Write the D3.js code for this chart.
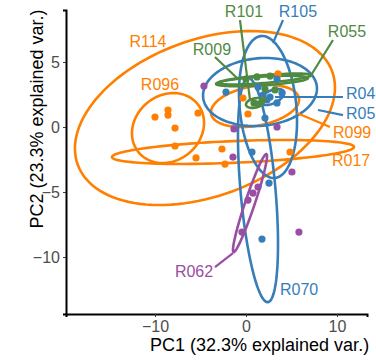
<!DOCTYPE html>
<html>
<head>
<meta charset="utf-8">
<script src="https://cdn.jsdelivr.net/npm/d3@7"></script>
<style>
  body { margin: 0; background: #fff; }
  svg { font-family: "Liberation Sans", Arial, sans-serif; display: block; }
</style>
</head>
<body>
<figure id="pca" style="margin:0"></figure>
<script>
// groups and colours
const groups = ["orange", "blue", "green", "purple"];
const groupColors = ["#FF7F00", "#377EB8", "#4F8A42", "#984EA3"];

// sample scores (PC1, PC2) per group
const orangePC1 = [-10.0, -8.57, -8.57, -7.8, -5.27, -7.8, -5.49, -0.33, 0.22, -2.64, -2.31, 3.52, 4.84];
const orangePC2 = [0.77, 1.31, 0.92, -0.08, 1.08, -1.46, -2.38, 2.23, 1.0, -1.69, -2.85, 4.08, -1.92];
const bluePC1 = [3.41, -2.2, 1.32, 3.96, 2.64, 2.31, 3.41, 1.87, 2.09, 0.66, 2.53, 1.76];
const bluePC2 = [3.69, 2.69, 3.08, 2.62, 2.31, 2.08, 1.85, 2.46, 0.69, -1.92, -4.31, -8.62];
const greenPC1 = [1.21, 2.09, 3.19, 0.88, 1.32, 1.87, 0.0, 2.64];
const greenPC2 = [3.85, 2.92, 2.85, 1.85, 1.77, 2.08, 3.69, 3.92];
const purplePC1 = [-4.62, -1.32, 3.41, -1.43, 5.05, 1.32, 0.77, 0.22, -0.44, 5.82];
const purplePC2 = [3.15, -0.15, 0.0, -2.31, -3.46, -4.62, -5.08, -5.62, -8.08, -8.08];

// ellipses: centre, half-extent on each axis, correlation
const ellNames = ["R114", "R096", "R099", "R017", "R105", "R070", "R05", "R04", "R009", "R055", "R101", "R062"];
const ellGroup = [0, 0, 0, 0, 1, 1, 1, 1, 2, 2, 2, 3];
const ellCx = [-4.51, -8.57, 0.99, -1.43, 2.42, 1.32, 1.54, 2.86, 1.76, 2.09, 0.99, 0.44];
const ellCy = [0.69, -0.08, 1.62, -1.92, 1.54, -4.85, 2.69, 2.31, 3.54, 3.69, 1.85, -5.85];
const ellSx = [14.29, 3.96, 4.84, 13.3, 3.19, 2.2, 6.26, 1.32, 5.05, 5.05, 0.99, 1.87];
const ellSy = [6.69, 2.69, 1.62, 0.92, 5.46, 8.62, 2.62, 0.62, 0.4, 0.42, 0.38, 3.77];
const ellR = [0.35, 0.15, 0.3, 0.42, -0.2, -0.48, 0.1, 0.5, 0.55, 0.7, 0.3, 0.955];

// label positions (data units) and leader segments
const labX = [-10.77, -9.45, 9.56, 9.45, 5.71, 3.74, 10.99, 10.99, -3.74, 11.1, -0.22, -5.71];
const labY = [6.15, 2.85, -0.85, -3.0, 8.46, -12.92, 0.62, 2.15, 5.54, 6.92, 8.46, -11.54];
const labAnchor = ["middle", "middle", "start", "start", "middle", "start", "start", "start", "middle", "middle", "middle", "middle"];
const segFrom = [null, null, [5.6, 1.08], null, [2.97, 6.46], null, [7.91, 1.31], [3.19, 2.31], [-0.99, 3.77], [7.03, 3.85], [0.44, 2.08], [-1.43, -9.69]];
const segTo = [null, null, [9.23, 0.0], null, [4.07, 8.23], null, [10.66, 0.92], [10.66, 2.31], [-3.41, 5.38], [9.56, 6.69], [-0.66, 8.23], [-3.41, -10.77]];

const xTicks = [-10, 0, 10];
const yTicks = [-10, -5, 0, 5];

const width = 376, height = 360;

const svg = d3.select("figure#pca")
  .append("svg")
  .attr("width", width)
  .attr("height", height);

const x = d3.scaleLinear().domain([-19.78, 13.3]).range([66, 367]);
const y = d3.scaleLinear().domain([-14.38, 9.0]).range([314, 10]);

// ellipses
const ellLine = d3.line().x(d => x(d[0])).y(d => y(d[1])).curve(d3.curveLinearClosed);
const ellipses = ellNames.map((n, i) => {
  const pts = d3.range(120).map(k => {
    const t = k / 120 * 2 * Math.PI;
    return [ellCx[i] + ellSx[i] * Math.cos(t),
            ellCy[i] + ellSy[i] * (ellR[i] * Math.cos(t) + Math.sqrt(1 - ellR[i] * ellR[i]) * Math.sin(t))];
  });
  return { name: n, group: ellGroup[i], pts: pts };
});

svg.append("g")
  .selectAll("path")
  .data(ellipses)
  .enter()
  .append("path")
  .attr("d", d => ellLine(d.pts))
  .attr("fill", "none")
  .attr("stroke", d => groupColors[d.group])
  .attr("stroke-width", 2.6);

// points
const points = [];
[[orangePC1, orangePC2], [bluePC1, bluePC2], [greenPC1, greenPC2], [purplePC1, purplePC2]]
  .forEach((s, g) => s[0].forEach((v, i) => points.push({ pc1: v, pc2: s[1][i], group: g })));

svg.append("g")
  .selectAll("circle")
  .data(points)
  .enter()
  .append("circle")
  .attr("cx", d => x(d.pc1))
  .attr("cy", d => y(d.pc2))
  .attr("r", 3.6)
  .attr("fill", d => groupColors[d.group]);

// leader segments
svg.append("g")
  .selectAll("line")
  .data(ellNames.map((n, i) => ({ i: i, from: segFrom[i], to: segTo[i] })).filter(d => d.from))
  .enter()
  .append("line")
  .attr("x1", d => x(d.from[0]))
  .attr("y1", d => y(d.from[1]))
  .attr("x2", d => x(d.to[0]))
  .attr("y2", d => y(d.to[1]))
  .attr("stroke", d => groupColors[ellGroup[d.i]])
  .attr("stroke-width", 2.2);

// labels
svg.append("g")
  .selectAll("text")
  .data(ellNames)
  .enter()
  .append("text")
  .text(d => d)
  .attr("x", (d, i) => x(labX[i]))
  .attr("y", (d, i) => y(labY[i]))
  .attr("text-anchor", (d, i) => labAnchor[i])
  .attr("fill", (d, i) => groupColors[ellGroup[i]])
  .style("font-size", "16px");

// axes
const xAxis = svg.append("g")
  .attr("transform", "translate(0," + y.range()[0] + ")")
  .call(d3.axisBottom(x).tickValues(xTicks).tickSize(3).tickPadding(4).tickFormat(d3.format("")));
const yAxis = svg.append("g")
  .attr("transform", "translate(" + x.range()[0] + ",0)")
  .call(d3.axisLeft(y).tickValues(yTicks).tickSize(3).tickPadding(3).tickFormat(d3.format("")));

[xAxis, yAxis].forEach(a => {
  a.select(".domain").attr("stroke", "#000").attr("stroke-width", 2);
  a.selectAll(".tick line").attr("stroke", "#333").attr("stroke-width", 1);
  a.selectAll(".tick text")
    .attr("fill", "#4D4D4D")
    .style("font-size", "16px")
    .style("font-family", "'Liberation Sans', Arial, sans-serif");
});

// axis titles
svg.append("text")
  .text("PC1 (32.3% explained var.)")
  .attr("x", 150)
  .attr("y", 351)
  .style("font-size", "18px")
  .attr("fill", "#000");

svg.append("text")
  .text("PC2 (23.3% explained var.)")
  .attr("transform", "translate(43,119) rotate(-90)")
  .attr("text-anchor", "middle")
  .style("font-size", "18px")
  .attr("fill", "#000");
</script>
</body>
</html>
